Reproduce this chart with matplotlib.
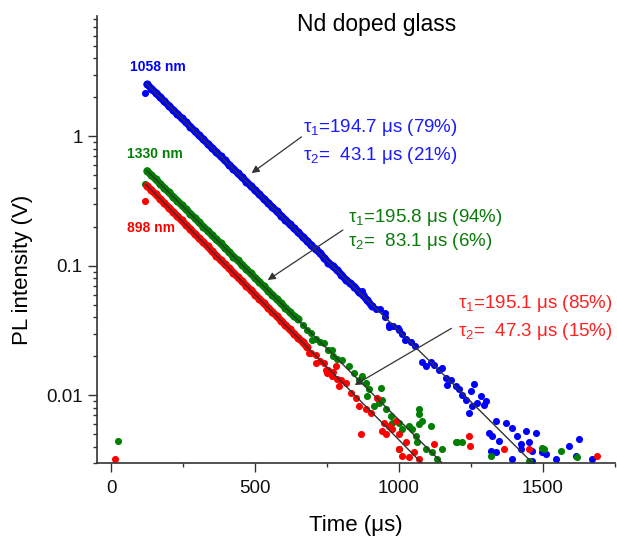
import matplotlib
matplotlib.use("Agg")
import matplotlib.pyplot as plt
from matplotlib import ticker

plt.rcParams['font.family'] = ['Liberation Sans', 'DejaVu Sans']
plt.rcParams['mathtext.fontset'] = 'custom'
plt.rcParams['mathtext.rm'] = 'Liberation Sans'
plt.rcParams['mathtext.it'] = 'Liberation Sans:italic'
plt.rcParams['mathtext.bf'] = 'Liberation Sans:bold'

# PL decay data, time in us, intensity in V
# dense part of each decay (points overlap into a thick band)
blue_t = [125, 140, 155, 170, 185, 200, 215, 230, 245, 260, 275, 290, 305, 320,
          335, 350, 365, 380, 395, 410, 425, 440, 455, 470, 485, 500, 515, 530, 545,
          560, 575, 590, 605, 620, 635, 650, 665, 680, 695, 710, 725, 740, 755, 770,
          785, 800, 815, 830, 845, 860, 875, 890, 905]
blue_v = [2.52, 2.34, 2.17, 2.01, 1.86, 1.73, 1.60, 1.49, 1.38, 1.28, 1.19, 1.10,
          1.02, 0.948, 0.879, 0.816, 0.757, 0.702, 0.651, 0.604, 0.560, 0.519, 0.482,
          0.447, 0.414, 0.384, 0.356, 0.330, 0.306, 0.284, 0.264, 0.244, 0.227, 0.210,
          0.195, 0.181, 0.168, 0.156, 0.144, 0.134, 0.126, 0.115, 0.106, 0.0990, 0.093,
          0.0852, 0.078, 0.0733, 0.069, 0.0630, 0.059, 0.0542, 0.049]
# scattered points (start spike and noisy tail)
blue_tail_t = [118, 920, 935, 950, 965, 980, 995, 1010, 1025, 1040, 1055,
               870, 950, 965, 1000, 1020, 1081, 1093, 1110, 1122, 1139, 1150, 1162,
               1179, 1168, 1197, 1208, 1220, 1249, 1232, 1272, 1284, 1295, 1255, 1243,
               1301, 1336, 1370, 1313, 1324, 1347, 1318, 1336, 1393, 1411, 1440, 1475,
               1422, 1451, 1422, 1463, 1498, 1509, 1544, 1590, 1625, 1614, 1671, 1393,
               1463, 1260]
blue_tail_v = [2.18, 0.0466, 0.046, 0.0401, 0.035, 0.0345, 0.033, 0.0297, 0.027,
               0.0256, 0.024,
               0.064, 0.043, 0.0337, 0.0318, 0.0265, 0.0182, 0.0167, 0.0182, 0.0172,
               0.0157, 0.0162, 0.0136, 0.0132, 0.0121, 0.0117, 0.0111, 0.0101, 0.0107,
               0.00927, 0.00875, 0.00982, 0.00849, 0.00824, 0.00733, 0.00899, 0.00632,
               0.00615, 0.00515, 0.00485, 0.00445, 0.00373, 0.00362, 0.00563, 0.00485,
               0.00531, 0.00515, 0.00420, 0.00433, 0.00384, 0.00373, 0.00362, 0.00352,
               0.00322, 0.00407, 0.00458, 0.00341, 0.00322, 0.00322, 0.00313, 0.0123]

green_t = [125, 140, 155, 170, 185, 200, 215, 230, 245, 260, 275, 290, 305, 320, 335,
           350, 365, 380, 395, 410, 425, 440, 455, 470, 485, 500, 515, 530, 545, 560,
           575, 590, 605, 620, 635, 650]
green_v = [0.541, 0.501, 0.465, 0.431, 0.399, 0.370, 0.343, 0.318, 0.295, 0.273,
           0.253, 0.235, 0.217, 0.201, 0.187, 0.173, 0.160, 0.149, 0.138, 0.128, 0.118,
           0.110, 0.102, 0.0942, 0.0873, 0.0809, 0.0750, 0.0695, 0.0644, 0.0597,
           0.0553, 0.0513, 0.0475, 0.0440, 0.0408, 0.0390]
green_tail_t = [25, 118, 665, 680, 695, 710, 725, 740, 755, 770, 785,
                699, 768, 803, 826, 844, 861, 873, 884, 890, 896, 913, 931, 936, 942,
                954, 971, 977, 1000, 1011, 1035, 1046, 1058, 1069, 1081, 1110, 1063,
                1000, 1093, 1116, 1133, 1150, 1197, 1220, 1318, 1451, 1503, 1561, 1619,
                1071, 1069, 1203, 1498]
green_tail_v = [0.0044, 0.431, 0.0351, 0.0318, 0.0301, 0.0270, 0.0259, 0.0252, 0.0222,
                0.0200, 0.0191,
                0.0267, 0.0224, 0.0188, 0.0167, 0.0148, 0.0132, 0.0140, 0.0124,
                0.00982, 0.0111, 0.00824, 0.00875, 0.0114, 0.00927, 0.00778, 0.00690,
                0.00615, 0.00615, 0.00547, 0.00579, 0.00547, 0.00485, 0.00597, 0.00632,
                0.00579, 0.00433, 0.00384, 0.00384, 0.00362, 0.00322, 0.00384, 0.00433,
                0.00433, 0.00341, 0.00313, 0.00384, 0.00373, 0.00332, 0.00716, 0.00778,
                0.00433, 0.00395]

red_t = [125, 140, 155, 170, 185, 200, 215, 230, 245, 260, 275, 290, 305, 320, 335,
         350, 365, 380, 395, 410, 425, 440, 455, 470, 485, 500, 515, 530, 545, 560,
         575, 590, 605, 620, 635, 650, 665, 680]
red_v = [0.415, 0.384, 0.356, 0.329, 0.305, 0.282, 0.261, 0.242, 0.224, 0.207, 0.192,
         0.177, 0.164, 0.152, 0.141, 0.130, 0.120, 0.111, 0.103, 0.0955, 0.0884,
         0.0818, 0.0757, 0.0701, 0.0649, 0.0600, 0.0556, 0.0514, 0.0476, 0.0441,
         0.0408, 0.0378, 0.0349, 0.0323, 0.0299, 0.0277, 0.0258, 0.0236]
red_tail_t = [14, 118, 695, 710, 725, 740, 755, 770, 785, 800,
              688, 711, 745, 768, 792, 815, 832, 850, 861, 884, 902, 925, 948, 965,
              977, 988, 867, 942, 954, 1000, 1023, 1000, 1011, 1035, 1052, 1069, 1122,
              1243, 1365, 1451, 1689, 780, 751, 1245]
red_tail_v = [0.00322, 0.314, 0.0214, 0.0206, 0.0183, 0.0178, 0.0158, 0.0152, 0.0134,
              0.0131,
              0.0211, 0.0177, 0.0157, 0.0140, 0.0117, 0.0124, 0.0104, 0.00955, 0.00824,
              0.00778, 0.00733, 0.00955, 0.00615, 0.00579, 0.00547, 0.00632, 0.00500,
              0.00531, 0.00500, 0.00500, 0.00433, 0.00384, 0.00341, 0.00332, 0.00362,
              0.00322, 0.00420, 0.00485, 0.00384, 0.00384, 0.00341, 0.0167, 0.0148,
              0.00403]

# biexponential fits (drawn as polylines)
blue_fit_t = [123, 400, 800, 1200, 1470]
blue_fit_v = [2.55, 0.635, 0.0853, 0.0115, 0.0029]
green_fit_t = [125, 500, 900, 1150]
green_fit_v = [0.541, 0.0809, 0.0107, 0.0030]
red_fit_t = [121, 500, 900, 1085]
red_fit_v = [0.424, 0.060, 0.0076, 0.0029]

W, H = 617, 538
fig = plt.figure(figsize=(W / 100, H / 100), dpi=100)
ax = fig.add_axes([96.7 / W, 1 - 463 / H, (615 - 96.7) / W, (463 - 16) / H])

BLUE, GREEN, RED = '#0000ff', '#007f00', '#ff0000'
dot = 26
for t, v, tt, tv, c in [(blue_t, blue_v, blue_tail_t, blue_tail_v, BLUE),
                        (green_t, green_v, green_tail_t, green_tail_v, GREEN),
                        (red_t, red_v, red_tail_t, red_tail_v, RED)]:
    ax.plot(t, v, color=c, lw=5.2, solid_capstyle='round', solid_joinstyle='round',
            zorder=2)
    ax.scatter(t, v, s=dot + 8, color=c, linewidths=0, zorder=2)
    ax.scatter(tt, tv, s=dot, color=c, linewidths=0, zorder=2)

for ft, fv in [(blue_fit_t, blue_fit_v), (green_fit_t, green_fit_v), (red_fit_t, red_fit_v)]:
    ax.plot(ft, fv, color='#333333', lw=1.0, zorder=3)

ax.set_yscale('log')
ax.set_xlim(-50, 1750)
ax.set_ylim(0.003, 8.5)

ax.set_xticks([0, 500, 1000, 1500])
ax.set_xticks([250, 750, 1250, 1750], minor=True)
ax.yaxis.set_major_locator(ticker.FixedLocator([0.01, 0.1, 1]))
ax.yaxis.set_major_formatter(ticker.FuncFormatter(lambda v, p: f'{v:g}'))
ax.yaxis.set_minor_locator(ticker.LogLocator(base=10, subs=range(2, 10)))
ax.yaxis.set_minor_formatter(ticker.NullFormatter())

for side in ['top', 'right']:
    ax.spines[side].set_visible(False)
for side in ['left', 'bottom']:
    ax.spines[side].set_color('#333333')
    ax.spines[side].set_linewidth(1.2)

ax.tick_params(which='major', direction='out', length=6.5, width=1.0, color='#333333',
               labelsize=13.5, labelcolor='#111111')
ax.tick_params(which='minor', direction='out', length=3, width=1.0, color='#333333')
ax.tick_params(axis='x', pad=6)
ax.tick_params(axis='y', pad=3.5)

ax.set_xlabel('Time (μs)', fontsize=16)
ax.xaxis.set_label_coords(0.5, -(525 - 463) / 447)
ax.xaxis.label.set_va('center')
ax.set_ylabel('PL intensity (V)', fontsize=16)
ax.yaxis.set_label_coords((23 - 96.7) / 518.3, (463 - 270) / 447)
ax.yaxis.label.set_va('center')


def fig_text(x, y, s, **kw):
    fig.text(x / W, 1 - y / H, s, **kw)


fig_text(377, 24, 'Nd doped glass', fontsize=16.5, ha='center', va='center')

fig_text(158, 67, '1058 nm', fontsize=10, fontweight='bold', color=BLUE,
         ha='center', va='center')
fig_text(155, 154, '1330 nm', fontsize=10, fontweight='bold', color=GREEN,
         ha='center', va='center')
fig_text(151, 228, '898 nm', fontsize=10, fontweight='bold', color=RED,
         ha='center', va='center')

fig_text(303, 127, 'τ$_1$=194.7 μs (79%)', fontsize=13.5, color='#1a1aff', va='center')
fig_text(303, 155, 'τ$_2$=  43.1 μs (21%)', fontsize=13.5, color='#1a1aff', va='center')
fig_text(348, 217, 'τ$_1$=195.8 μs (94%)', fontsize=13.5, color='#0a7a0a', va='center')
fig_text(348, 242, 'τ$_2$=  83.1 μs (6%)', fontsize=13.5, color='#0a7a0a', va='center')
fig_text(458, 303, 'τ$_1$=195.1 μs (85%)', fontsize=13.5, color='#ff2020', va='center')
fig_text(458, 331, 'τ$_2$=  47.3 μs (15%)', fontsize=13.5, color='#ff2020', va='center')

arrow = dict(arrowstyle='-|>', color='#333333', lw=0.9, mutation_scale=11,
             shrinkA=0, shrinkB=0)
ax.annotate('', xy=(488, 0.52), xytext=(661, 0.99), arrowprops=arrow, zorder=4)
ax.annotate('', xy=(544, 0.0777), xytext=(805, 0.189), arrowprops=arrow, zorder=4)
ax.annotate('', xy=(846, 0.0120), xytext=(1182, 0.0329), arrowprops=arrow, zorder=4)

fig.savefig('out.png', dpi=100)
